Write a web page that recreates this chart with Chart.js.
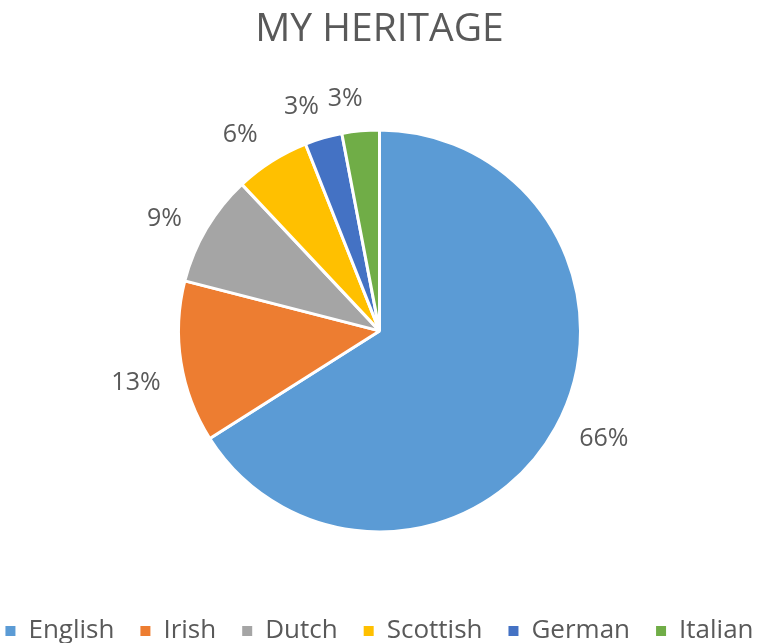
<!DOCTYPE html>
<html>
<head>
<meta charset="utf-8">
<script src="https://cdn.jsdelivr.net/npm/chart.js@4"></script>
<style>
  html, body { margin: 0; padding: 0; background: #fff; overflow: hidden; }
  #wrap { width: 769px; height: 643px; overflow: hidden; position: relative; }
  /* canevas plus large que la fenêtre pour garder la légende sur une ligne */
  #myChart { position: absolute; left: -41px; top: 0; }
</style>
</head>
<body>
<div id="wrap">
  <canvas id="myChart" width="841" height="654"></canvas>
</div>
<script>
// données du camembert
let origines = ["English", "Irish", "Dutch", "Scottish", "German", "Italian"];
let pourcentages = [66, 13, 9, 6, 3, 3];
let couleurs = ["#5B9BD5", "#ED7D31", "#A5A5A5", "#FFC000", "#4472C4", "#70AD47"];
let titre = "MY HERITAGE";

let gris = "#595959";

// étiquettes en % posées à l'extérieur de chaque part
// (le bord du texte le plus proche reste à ~22px du cercle)
const etiquettesExterieures = {
  id: "etiquettesExterieures",
  afterDatasetsDraw(chart) {
    let ctx = chart.ctx;
    let meta = chart.getDatasetMeta(0);
    let total = pourcentages.reduce((a, b) => a + b, 0);
    let hauteur = 18;
    let decalage = (-3 * Math.PI) / 180;
    ctx.save();
    ctx.font = "25px 'Open Sans'";
    ctx.fillStyle = gris;
    ctx.textAlign = "center";
    ctx.textBaseline = "middle";
    meta.data.forEach((arc, i) => {
      let p = arc.getProps(["x", "y", "startAngle", "endAngle", "outerRadius"], true);
      let milieu = (p.startAngle + p.endAngle) / 2 + decalage;
      let texte = Math.round((pourcentages[i] / total) * 100) + "%";
      let largeur = ctx.measureText(texte).width;
      let ux = Math.cos(milieu);
      let uy = Math.sin(milieu);
      let demi = (Math.abs(ux) * largeur) / 2 + (Math.abs(uy) * hauteur) / 2;
      let r = p.outerRadius + 22 + demi;
      ctx.fillText(texte, p.x + ux * r, p.y + uy * r);
    });
    ctx.restore();
  },
};

const config = {
  type: "pie",
  data: {
    labels: origines,
    datasets: [
      {
        data: pourcentages,
        backgroundColor: couleurs,
        borderColor: "#ffffff",
        borderWidth: 3,
        radius: 201,
      },
    ],
  },
  options: {
    responsive: false,
    animation: false,
    plugins: {
      title: {
        display: true,
        text: titre,
        color: gris,
        font: { family: "'Open Sans'", size: 39, weight: "normal" },
        padding: { top: 6.5, bottom: 16.5 },
      },
      legend: {
        position: "bottom",
        labels: {
          color: gris,
          font: { family: "'Open Sans'", size: 26 },
          boxWidth: 10,
          boxHeight: 10,
          padding: 26,
          // pas de bordure blanche autour des carrés de la légende
          generateLabels: (chart) => {
            let items = Chart.overrides.pie.plugins.legend.labels.generateLabels(chart);
            items.forEach((item) => (item.lineWidth = 0));
            return items;
          },
        },
      },
      tooltip: { enabled: false },
    },
  },
  plugins: [etiquettesExterieures],
};

let context = document.getElementById("myChart").getContext("2d");
let chart = new Chart(context, config);
</script>
</body>
</html>
